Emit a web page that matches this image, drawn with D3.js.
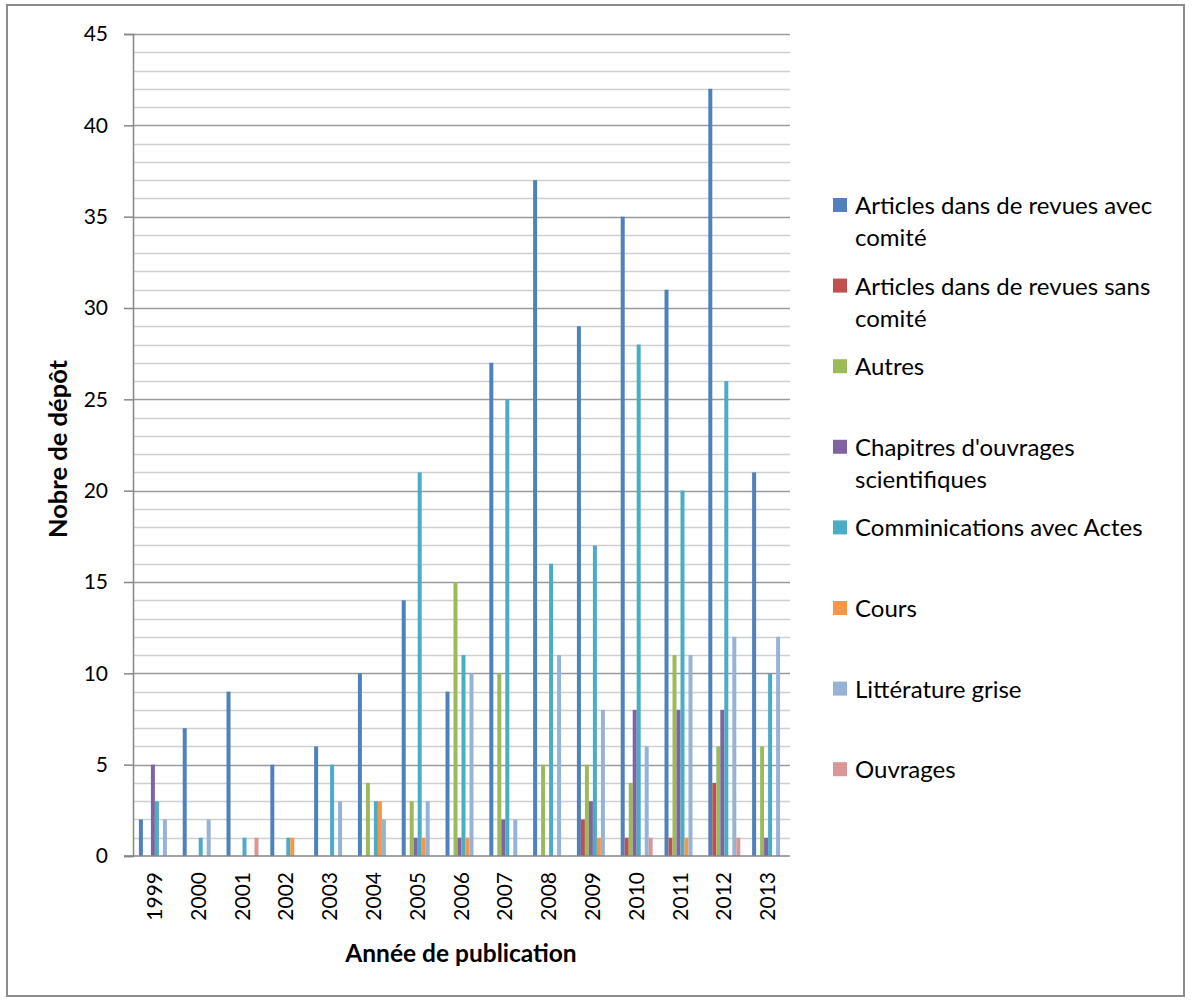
<!DOCTYPE html>
<html>
  <head>
    <meta charset="utf-8" />
    <style>
      body,
      html {
        margin: 0;
        padding: 0;
        background: #fff;
        overflow: hidden;
      }
      svg {
        display: block;
        font-family: Lato, "Open Sans", sans-serif;
      }
    </style>
  </head>
  <body>
    <script src="https://cdn.jsdelivr.net/npm/d3@7"></script>
    <script>
      const years = [
        "1999", "2000", "2001", "2002", "2003", "2004", "2005", "2006",
        "2007", "2008", "2009", "2010", "2011", "2012", "2013",
      ];

      const seriesNames = [
        "Articles dans de revues avec comité",
        "Articles dans de revues sans comité",
        "Autres",
        "Chapitres d'ouvrages scientifiques",
        "Comminications avec Actes",
        "Cours",
        "Littérature grise",
        "Ouvrages",
      ];

      const seriesColors = [
        "#4f81bd", "#c0504d", "#9bbb59", "#8064a2",
        "#4bacc6", "#f79646", "#95b3d7", "#d99694",
      ];

      // one array per series, values per year 1999..2013
      const articlesAvec = [2, 7, 9, 5, 6, 10, 14, 9, 27, 37, 29, 35, 31, 42, 21];
      const articlesSans = [0, 0, 0, 0, 0, 0, 0, 0, 0, 0, 2, 1, 1, 4, 0];
      const autres = [0, 0, 0, 0, 0, 4, 3, 15, 10, 5, 5, 4, 11, 6, 6];
      const chapitres = [5, 0, 0, 0, 0, 0, 1, 1, 2, 0, 3, 8, 8, 8, 1];
      const communications = [3, 1, 1, 1, 5, 3, 21, 11, 25, 16, 17, 28, 20, 26, 10];
      const cours = [0, 0, 0, 1, 0, 3, 1, 1, 0, 0, 1, 0, 1, 0, 0];
      const litteratureGrise = [2, 2, 0, 0, 3, 2, 3, 10, 2, 11, 8, 6, 11, 12, 12];
      const ouvrages = [0, 0, 1, 0, 0, 0, 0, 0, 0, 0, 0, 1, 0, 1, 0];

      const seriesValues = [
        articlesAvec, articlesSans, autres, chapitres,
        communications, cours, litteratureGrise, ouvrages,
      ];

      const yTicks = [0, 5, 10, 15, 20, 25, 30, 35, 40, 45];

      const width = 1192;
      const height = 1000;
      const plot = { left: 133, right: 790, top: 34, bottom: 856 };

      const svg = d3
        .select("body")
        .append("svg")
        .attr("width", width)
        .attr("height", height);

      // outer frame
      svg
        .append("rect")
        .attr("x", 7)
        .attr("y", 5)
        .attr("width", 1177)
        .attr("height", 991)
        .attr("fill", "#fff")
        .attr("stroke", "#8c8c8c")
        .attr("stroke-width", 2);

      const x0 = d3
        .scaleBand()
        .domain(years)
        .range([plot.left, plot.right])
        .paddingInner(0.27)
        .paddingOuter(0.135);

      const x1 = d3
        .scaleBand()
        .domain(d3.range(seriesNames.length))
        .range([0, x0.bandwidth()]);

      const y = d3.scaleLinear().domain([0, 45]).range([plot.bottom, plot.top]);

      // gridlines, one per unit, darker every 5
      svg
        .append("g")
        .selectAll("line")
        .data(d3.range(1, 46))
        .join("line")
        .attr("x1", plot.left)
        .attr("x2", plot.right)
        .attr("y1", (d) => Math.round(y(d)) + 0.5)
        .attr("y2", (d) => Math.round(y(d)) + 0.5)
        .attr("stroke", (d) => (d % 5 === 0 ? "#9a9a9a" : "#cfcfcf"))
        .attr("stroke-width", 1.5);

      // bars
      const groups = svg
        .append("g")
        .selectAll("g")
        .data(years)
        .join("g")
        .attr("transform", (d) => `translate(${x0(d)},0)`);

      groups
        .selectAll("rect")
        .data((yr, i) =>
          seriesValues.map((vals, s) => ({ s: s, v: vals[i] }))
        )
        .join("rect")
        .attr("x", (d) => x1(d.s))
        .attr("width", x1.bandwidth())
        .attr("y", (d) => y(d.v))
        .attr("height", (d) => y(0) - y(d.v))
        .attr("fill", (d) => seriesColors[d.s]);

      // y axis
      const yAxis = svg
        .append("g")
        .attr("transform", `translate(${plot.left},0)`)
        .call(
          d3
            .axisLeft(y)
            .tickValues(yTicks)
            .tickSize(9)
            .tickPadding(16)
        );
      yAxis.select(".domain").attr("stroke", "#868686").attr("stroke-width", 1.5);
      yAxis.selectAll(".tick line").attr("stroke", "#868686").attr("stroke-width", 1.5);
      yAxis
        .selectAll(".tick text")
        .attr("fill", "#000")
        .style("font-family", "Lato, sans-serif")
        .style("font-size", "21px");

      // x axis baseline
      svg
        .append("line")
        .attr("x1", plot.left - 9)
        .attr("x2", plot.right)
        .attr("y1", y(0))
        .attr("y2", y(0))
        .attr("stroke", "#868686")
        .attr("stroke-width", 1.5);

      // year labels
      svg
        .append("g")
        .selectAll("text")
        .data(years)
        .join("text")
        .attr(
          "transform",
          (d) => `translate(${x0(d) + x0.bandwidth() / 2 + 7},${plot.bottom + 16}) rotate(-90)`
        )
        .attr("text-anchor", "end")
        .style("font-size", "21px")
        .text((d) => d);

      // axis titles
      svg
        .append("text")
        .attr("x", 461)
        .attr("y", 962)
        .attr("text-anchor", "middle")
        .style("font-size", "24.5px")
        .style("font-weight", "bold")
        .text("Année de publication");

      svg
        .append("text")
        .attr("transform", "translate(67,449) rotate(-90)")
        .attr("text-anchor", "middle")
        .style("font-size", "25.5px")
        .style("font-weight", "bold")
        .text("Nobre de dépôt");

      // legend
      const legendSize = 24;
      const legend = svg
        .append("g")
        .selectAll("g")
        .data(seriesNames)
        .join("g")
        .attr("transform", (d, i) => `translate(833,${198 + i * 80.6})`);

      legend
        .append("rect")
        .attr("width", 14)
        .attr("height", 14)
        .attr("fill", (d, i) => seriesColors[i]);

      legend.each(function (name) {
        const g = d3.select(this);
        const words = name.split(" ");
        const maxW = 322;
        let lines = [];
        let line = [];
        const probe = g
          .append("text")
          .style("font-size", legendSize + "px")
          .attr("visibility", "hidden");
        words.forEach((w) => {
          const test = line.concat(w).join(" ");
          probe.text(test);
          if (probe.node().getComputedTextLength() > maxW && line.length) {
            lines.push(line.join(" "));
            line = [w];
          } else {
            line.push(w);
          }
        });
        lines.push(line.join(" "));
        probe.remove();
        g.selectAll("text.lbl")
          .data(lines)
          .join("text")
          .attr("class", "lbl")
          .attr("x", 22)
          .attr("y", (d, k) => 16 + k * 32)
          .attr("fill", "#000")
          .style("font-size", legendSize + "px")
          .text((d) => d);
      });
    </script>
  </body>
</html>
